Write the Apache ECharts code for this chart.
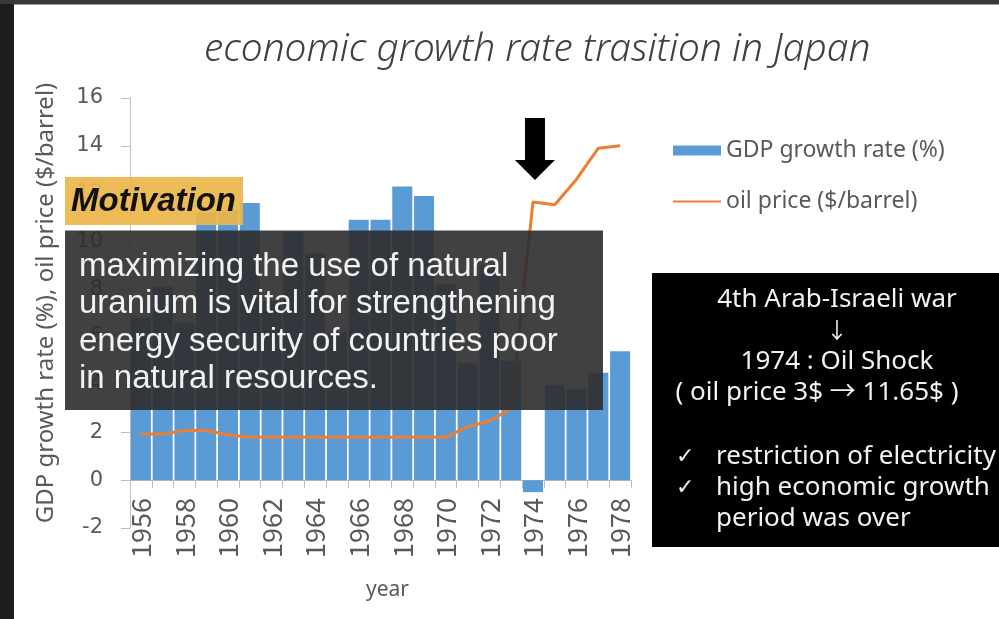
<!DOCTYPE html>
<html>
<head>
<meta charset="utf-8">
<script src="https://cdn.jsdelivr.net/npm/echarts@6/dist/echarts.min.js"></script>
<style>
  html, body { margin: 0; padding: 0; background: #ffffff; }
  #chart { width: 999px; height: 619px; }
</style>
</head>
<body>
<div id="chart"></div>
<script>
// Years shown on the category axis
const years = ['1956', '1957', '1958', '1959', '1960', '1961', '1962', '1963',
  '1964', '1965', '1966', '1967', '1968', '1969', '1970', '1971', '1972',
  '1973', '1974', '1975', '1976', '1977', '1978'];

// Real GDP growth rate of Japan (%)
const gdpGrowth = [6.8, 8.1, 6.6, 11.2, 11.3, 11.6, 7.5, 10.4, 9.5, 6.2,
  10.9, 10.9, 12.3, 11.9, 8.2, 4.9, 9.0, 5.0, -0.5, 4.0, 3.8, 4.5, 5.4];

// Crude oil price ($/barrel)
const oilPrice = [1.93, 1.93, 2.08, 2.08, 1.90, 1.80, 1.80, 1.80, 1.80, 1.80,
  1.80, 1.80, 1.80, 1.80, 1.80, 2.24, 2.48, 3.0, 11.65, 11.53, 12.6, 13.9, 14.0];

// Value axis ticks
const yMin = -2, yMax = 16, yStep = 2;

const seriesNames = ['GDP growth rate (%)', 'oil price ($/barrel)'];

const chart = echarts.init(document.getElementById('chart'), null, { renderer: 'canvas' });

const axisGray = '#bfbfbf';
const textGray = '#595959';
const uiFont = '"Noto Sans", "Noto Sans CJK JP", sans-serif';
const numFont = '"Noto Sans CJK JP", "Noto Sans", sans-serif';

chart.setOption({
  backgroundColor: '#ffffff',
  animation: false,
  title: {
    text: 'economic growth rate trasition in Japan',
    left: 204,
    top: 31,
    padding: 0,
    textStyle: {
      fontFamily: uiFont,
      fontSize: 38.8,
      fontStyle: 'italic',
      fontWeight: 300,
      color: '#404040'
    }
  },
  legend: {
    orient: 'vertical',
    left: 672,
    top: 139,
    padding: 0,
    itemWidth: 48,
    itemHeight: 10,
    itemGap: 28,
    textStyle: { fontFamily: uiFont, fontSize: 23, color: textGray },
    data: [
      { name: seriesNames[0], icon: 'rect' },
      { name: seriesNames[1], itemStyle: { opacity: 0 } }
    ]
  },
  grid: { left: 130, right: 368, top: 98, bottom: 91, containLabel: false, outerBoundsMode: 'none' },
  xAxis: {
    type: 'category',
    data: years,
    boundaryGap: true,
    axisLine: { onZero: true, lineStyle: { color: axisGray, width: 1 } },
    axisTick: { show: true, interval: 0, length: 8, lineStyle: { color: axisGray } },
    axisLabel: {
      interval: 1,
      rotate: 90,
      margin: -30,
      fontFamily: numFont,
      fontSize: 27,
      color: textGray
    },
    name: 'year',
    nameLocation: 'middle',
    nameGap: 52,
    nameTextStyle: { fontFamily: uiFont, fontSize: 21, color: textGray, padding: [0, 0, 0, 14] }
  },
  yAxis: {
    type: 'value',
    min: yMin,
    max: yMax,
    interval: yStep,
    axisLine: { show: true, lineStyle: { color: axisGray, width: 1 } },
    axisTick: { show: true, length: 9, lineStyle: { color: axisGray } },
    splitLine: { show: false },
    axisLabel: { margin: 27, fontFamily: '"DejaVu Sans", sans-serif', fontSize: 21, color: textGray },
    name: 'GDP growth rate (%), oil price ($/barrel)',
    nameLocation: 'middle',
    nameGap: 72,
    nameRotate: 90,
    nameTextStyle: { fontFamily: uiFont, fontSize: 24, color: textGray, padding: [0, 0, 0, 20] }
  },
  series: [
    {
      name: seriesNames[0],
      type: 'bar',
      data: gdpGrowth,
      barCategoryGap: '8%',
      itemStyle: { color: '#5b9bd5' }
    },
    {
      name: seriesNames[1],
      type: 'line',
      data: oilPrice,
      showSymbol: false,
      symbol: 'none',
      smooth: false,
      lineStyle: { color: '#ed7d31', width: 3 },
      itemStyle: { color: '#ed7d31' }
    }
  ]
});

// Annotation layer drawn over the chart
const arrowX = chart.convertToPixel({ xAxisIndex: 0 }, '1974') + 2;
const textFont = '"Noto Sans", "Noto Sans CJK JP", sans-serif';
const noteFont = '26px ' + textFont;

chart.setOption({
  graphic: [
    // slide frame
    { type: 'rect', z: 200, shape: { x: 0, y: 0, width: 14, height: 619 }, style: { fill: '#1d1d1d' } },
    { type: 'rect', z: 200, shape: { x: 0, y: 0, width: 999, height: 4 }, style: { fill: '#383838' } },
    { type: 'rect', z: 200, shape: { x: 14, y: 4, width: 985, height: 1 }, style: { fill: '#a0a0a0' } },

    // "Motivation" tag
    { type: 'rect', z: 200, shape: { x: 65, y: 177, width: 178, height: 48 },
      style: { fill: 'rgba(236,181,74,0.92)' } },
    { type: 'text', z: 201, x: 71, y: 202,
      style: { text: 'Motivation', font: 'italic bold 33px "Liberation Sans", Arial, sans-serif',
        fill: '#111111', textVerticalAlign: 'middle' } },

    // motivation statement
    { type: 'rect', z: 200, shape: { x: 65, y: 230.5, width: 538, height: 179.5 },
      style: { fill: 'rgba(44,44,44,0.9)' } },
    { type: 'text', z: 201, x: 79, y: 248,
      style: {
        text: 'maximizing the use of natural\nuranium is vital for strengthening\nenergy security of countries poor\nin natural resources.',
        font: '33px "Liberation Sans", Arial, sans-serif',
        lineHeight: 37.5,
        fill: '#f2f2f2'
      } },

    // oil shock note
    { type: 'rect', z: 200, shape: { x: 652, y: 273, width: 360, height: 274 }, style: { fill: '#000000' } },
    { type: 'text', z: 201, x: 837, y: 300,
      style: { text: '4th Arab-Israeli war', font: noteFont, fill: '#f2f2f2', textAlign: 'center', textVerticalAlign: 'middle' } },
    { type: 'text', z: 201, x: 837, y: 330,
      style: { text: '↓', font: '22px "Noto Sans CJK JP", sans-serif', fill: '#f2f2f2', textAlign: 'center', textVerticalAlign: 'middle' } },
    { type: 'text', z: 201, x: 837, y: 362,
      style: { text: '1974 : Oil Shock', font: noteFont, fill: '#f2f2f2', textAlign: 'center', textVerticalAlign: 'middle' } },
    { type: 'text', z: 201, x: 817, y: 393,
      style: { text: '( oil price 3$ → 11.65$ )', font: noteFont, fill: '#f2f2f2', textAlign: 'center', textVerticalAlign: 'middle' } },
    { type: 'text', z: 201, x: 676, y: 457,
      style: { text: '✓', font: '22px "DejaVu Sans", sans-serif', fill: '#f2f2f2', textVerticalAlign: 'middle' } },
    { type: 'text', z: 201, x: 676, y: 488,
      style: { text: '✓', font: '22px "DejaVu Sans", sans-serif', fill: '#f2f2f2', textVerticalAlign: 'middle' } },
    { type: 'text', z: 201, x: 716, y: 457,
      style: { text: 'restriction of electricity', font: noteFont, fill: '#f2f2f2', textVerticalAlign: 'middle' } },
    { type: 'text', z: 201, x: 716, y: 488,
      style: { text: 'high economic growth', font: noteFont, fill: '#f2f2f2', textVerticalAlign: 'middle' } },
    { type: 'text', z: 201, x: 716, y: 519,
      style: { text: 'period was over', font: noteFont, fill: '#f2f2f2', textVerticalAlign: 'middle' } },

    // arrow pointing at 1974
    { type: 'polygon', z: 200,
      shape: { points: [
        [arrowX - 10, 118], [arrowX + 10, 118], [arrowX + 10, 160], [arrowX + 20, 160],
        [arrowX, 180], [arrowX - 20, 160], [arrowX - 10, 160]
      ] },
      style: { fill: '#000000' } }
  ]
});
</script>
</body>
</html>
